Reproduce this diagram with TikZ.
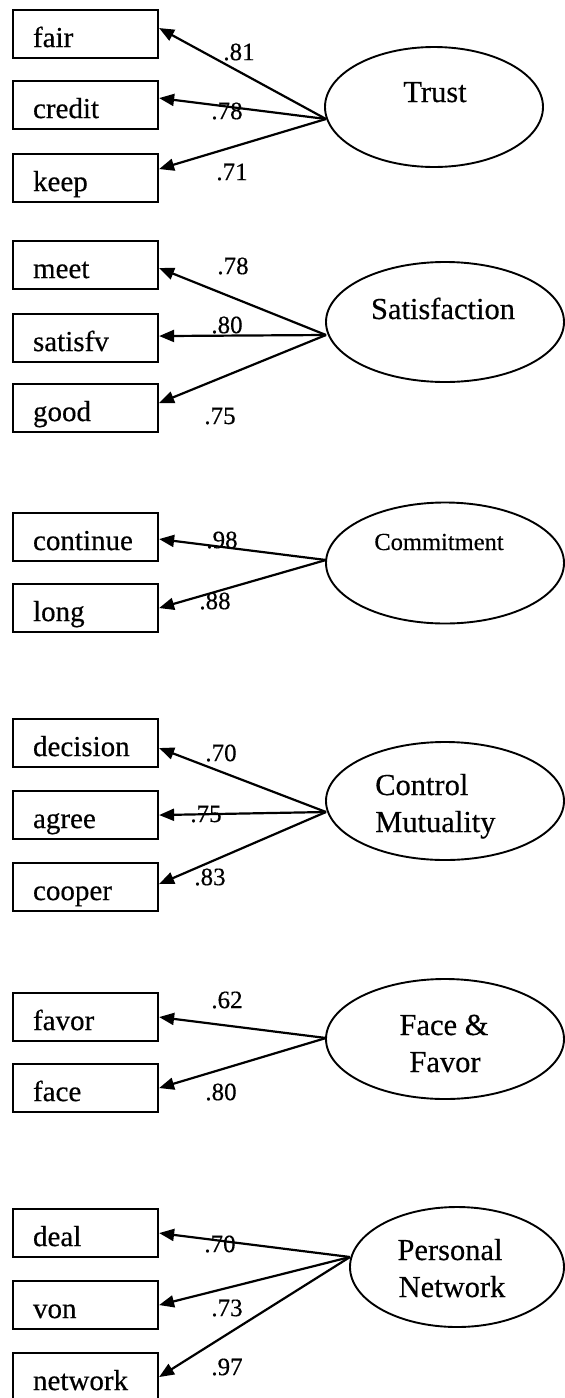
\documentclass[tikz,border=0pt]{standalone}
\usepackage{fontspec}
\setmainfont{Liberation Serif}
\newfontfamily\inkfont[FakeBold=0.4]{Liberation Serif}
\usetikzlibrary{shapes.geometric, arrows.meta}

\tikzset{
  obs/.style={draw, line width=2.1pt, minimum width=145pt, minimum height=48pt,
    anchor=north west, inner xsep=20pt, inner ysep=0pt, text width=105pt,
    align=left, text height=26pt, text depth=0pt,
    font=\inkfont\fontsize{29}{31}\selectfont},
  lat/.style={draw, ellipse, line width=1.9pt, inner sep=0pt},
  lattext/.style={anchor=base, inner sep=0pt, font=\inkfont\fontsize{30.5}{33}\selectfont},
  loadlabel/.style={inner sep=0pt, font=\inkfont\fontsize{25}{27}\selectfont},
  loading/.style={line width=2.2pt, -{Triangle[length=15pt,width=12pt]}}
}

\begin{document}
\begin{tikzpicture}[x=1pt, y=-1pt]
\useasboundingbox (0,0) rectangle (565,1398);
\clip (0,0) rectangle (565,1398);
\fill[white] (0,0) rectangle (565,1398);

% ---- Trust ----
\node[obs] (fair)   at (12,9)   {fair};
\node[obs] (credit) at (12,80)  {credit};
\node[obs] (keep)   at (12,153) {keep};
\node[lat, minimum width=218pt, minimum height=120pt] (trust) at (434,107) {};
\node[lattext] (trustname) at (435,102) {Trust};
\coordinate (trustp) at (326,119);
\draw[loading] (trustp) -- ([yshift=6pt]fair.east);
\draw[loading] (trustp) -- ([yshift=7pt]credit.east);
\draw[loading] (trustp) -- ([yshift=9pt]keep.east);
\node[loadlabel] (l1) at (239,52)  {.81};
\node[loadlabel] (l2) at (227,111) {.78};
\node[loadlabel] (l3) at (232,172) {.71};

% ---- Satisfaction ----
\node[obs] (meet)    at (12,240) {meet};
\node[obs] (satisfv) at (12,313) {satisfv};
\node[obs] (good)    at (12,383) {good};
\node[lat, minimum width=238pt, minimum height=120pt] (sat) at (445,322) {};
\node[lattext] (satname) at (443,319) {Satisfaction};
\coordinate (satp) at (326,335);
\draw[loading] (satp) -- ([yshift=-3pt]meet.east);
\draw[loading] (satp) -- ([yshift=2pt]satisfv.east);
\draw[loading] (satp) -- ([yshift=5pt]good.east);
\node[loadlabel] (l4) at (233,266) {.78};
\node[loadlabel] (l5) at (227,325) {.80};
\node[loadlabel] (l6) at (220,416) {.75};

% ---- Commitment ----
\node[obs] (continue) at (12,512) {continue};
\node[obs] (long)     at (12,583) {long};
\node[lat, minimum width=238pt, minimum height=121pt] (commit) at (445,563) {};
\node[anchor=base, inner sep=0pt, font=\inkfont\fontsize{24.5}{27}\selectfont] (commitname) at (439,550) {Commitment};
\coordinate (commitp) at (326,560);
\draw[loading] (commitp) -- ([yshift=-2pt]continue.east);
\draw[loading] (commitp) -- (long.east);
\node[loadlabel] (l7) at (222,540) {.98};
\node[loadlabel] (l8) at (215,601) {.88};

% ---- Control Mutuality ----
\node[obs] (decision) at (12,718) {decision};
\node[obs] (agree)    at (12,790) {agree};
\node[obs] (cooper)   at (12,862) {cooper};
\node[lat, minimum width=238pt, minimum height=118pt] (ctrl) at (445,801) {};
\node[lattext, anchor=base west] (ctrlname1) at (375,795) {Control};
\node[lattext, anchor=base west] (ctrlname2) at (375,832) {Mutuality};
\coordinate (ctrlp) at (326,812);
\draw[loading] (ctrlp) -- ([yshift=-5pt]decision.east);
\draw[loading] (ctrlp) -- (agree.east);
\draw[loading] (ctrlp) -- ([yshift=3pt]cooper.east);
\node[loadlabel] (l9)  at (221,753) {.70};
\node[loadlabel] (l10) at (206,814) {.75};
\node[loadlabel] (l11) at (210,877) {.83};

% ---- Face & Favor ----
\node[obs] (favor) at (12,992)  {favor};
\node[obs] (face)  at (12,1063) {face};
\node[lat, minimum width=238pt, minimum height=120pt] (ff) at (445,1039) {};
\node[lattext] (ffname1) at (444,1035) {Face \&};
\node[lattext] (ffname2) at (445,1072) {Favor};
\coordinate (ffp) at (326,1038);
\draw[loading] (ffp) -- (favor.east);
\draw[loading] (ffp) -- (face.east);
\node[loadlabel] (l12) at (227,1000) {.62};
\node[loadlabel] (l13) at (221,1092) {.80};

% ---- Personal Network ----
\node[obs] (deal)    at (12,1208) {deal};
\node[obs] (von)     at (12,1280) {von};
\node[obs] (network) at (12,1352) {network};
\node[lat, minimum width=214pt, minimum height=120pt] (pn) at (457,1267) {};
\node[lattext] (pnname1) at (450,1260) {Personal};
\node[lattext] (pnname2) at (452,1297) {Network};
\coordinate (pnp) at (350,1257);
\draw[loading] (pnp) -- (deal.east);
\draw[loading] (pnp) -- (von.east);
\draw[loading] (pnp) -- (network.east);
\node[loadlabel] (l14) at (220,1244) {.70};
\node[loadlabel] (l15) at (227,1308) {.73};
\node[loadlabel] (l16) at (227,1367) {.97};
\end{tikzpicture}
\end{document}
